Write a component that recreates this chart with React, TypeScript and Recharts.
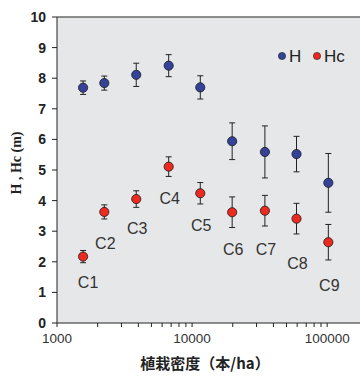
import {
  ScatterChart,
  Scatter,
  XAxis,
  YAxis,
  ErrorBar,
  CartesianGrid,
  ReferenceLine,
  Label,
} from "recharts";

// planting density (trees/ha) per stand C1..C9
const standNames = ["C1", "C2", "C3", "C4", "C5", "C6", "C7", "C8", "C9"];
const density = [1560, 2240, 3860, 6710, 11500, 19800, 34600, 59300, 102000];

// tree height H and its error
const hValues = [7.69, 7.84, 8.11, 8.41, 7.7, 5.94, 5.59, 5.52, 4.58];
const hErrors = [0.22, 0.23, 0.38, 0.36, 0.38, 0.6, 0.85, 0.58, 0.96];

// crown base height Hc and its error
const hcValues = [2.17, 3.63, 4.05, 5.11, 4.24, 3.62, 3.67, 3.41, 2.64];
const hcErrors = [0.2, 0.23, 0.27, 0.32, 0.35, 0.5, 0.5, 0.5, 0.58];

// where each stand name sits (y in metres)
const labelY = [1.31, 2.61, 3.1, 4.08, 3.2, 2.39, 2.41, 1.96, 1.24];

const xTicks = [
  1000, 2000, 3000, 4000, 5000, 6000, 7000, 8000, 9000,
  10000, 20000, 30000, 40000, 50000, 60000, 70000, 80000, 90000,
  100000,
];
const xLabels = [1000, 10000, 100000];
const yTicks = [0, 1, 2, 3, 4, 5, 6, 7, 8, 9, 10];

const BLUE = "#34429a";
const RED = "#ec2a1f";
const AXIS = "#222";
const SANS = "'Liberation Sans', Arial, sans-serif";

const hData = density.map((d, i) => ({ density: d, value: hValues[i], err: hErrors[i] }));
const hcData = density.map((d, i) => ({ density: d, value: hcValues[i], err: hcErrors[i] }));
const nameData = density.map((d, i) => ({ density: d, value: labelY[i], name: standNames[i] }));

const Dot = (color: string) => (props: any) => {
  const { cx, cy } = props;
  if (cx == null || cy == null) return <g />;
  return <circle cx={cx} cy={cy} r={4.6} fill={color} stroke="#1a1a1a" strokeWidth={0.8} />;
};

const NameText = (props: any) => {
  const { cx, cy, payload } = props;
  if (cx == null || cy == null) return <g />;
  const dx = payload.name === "C1" ? 5 : 1;
  return (
    <text
      x={cx + dx}
      y={cy}
      textAnchor="middle"
      dominantBaseline="central"
      fontSize={16}
      fontFamily={SANS}
      fill="#333"
    >
      {payload.name}
    </text>
  );
};

export default function App() {
  return (
    <div style={{ position: "absolute", left: 0, top: 0, width: 361, height: 381, overflow: "hidden", background: "#fff" }}>
      <ScatterChart width={361} height={381} margin={{ top: 17, right: 1, bottom: 28, left: 17 }}>
        <CartesianGrid horizontal={false} vertical={false} fill="#e6e7e8" />
        <XAxis
          type="number"
          dataKey="density"
          scale="log"
          domain={[1000, 175000]}
          allowDataOverflow
          ticks={xTicks}
          interval={0}
          height={30}
          stroke={AXIS}
          tickSize={4}
          tickMargin={6}
          tick={{ fontSize: 13.5, fill: "#333", fontFamily: SANS }}
          tickFormatter={(v: number) => (xLabels.includes(v) ? String(v) : "")}
        >
          <Label
            content={() => (
              <text
                x={205}
                y={369}
                textAnchor="middle"
                fontSize={15}
                fontWeight="bold"
                fontFamily="'Noto Sans CJK JP', sans-serif"
                fill="#222"
              >
                植栽密度（本/ha）
              </text>
            )}
          />
        </XAxis>
        <YAxis
          type="number"
          dataKey="value"
          domain={[0, 10]}
          ticks={yTicks}
          interval={0}
          width={40}
          stroke={AXIS}
          tickSize={5}
          tickMargin={6}
          tick={{ fontSize: 14, fontWeight: "bold", fill: "#222", fontFamily: SANS }}
        >
          <Label
            content={() => (
              <text
                x={16}
                y={163}
                transform="rotate(-90 16 163)"
                textAnchor="middle"
                dominantBaseline="central"
                fontSize={14}
                fontWeight="bold"
                fontFamily="'Liberation Serif', 'Times New Roman', serif"
                fill="#222"
              >
                H , Hc (m)
              </text>
            )}
          />
        </YAxis>
        <ReferenceLine y={10} stroke={AXIS} strokeWidth={1.2} />
        <Scatter data={hData} shape={Dot(BLUE)} isAnimationActive={false}>
          <ErrorBar dataKey="err" direction="y" width={3} stroke="#222" strokeWidth={1} />
        </Scatter>
        <Scatter data={hcData} shape={Dot(RED)} isAnimationActive={false}>
          <ErrorBar dataKey="err" direction="y" width={3} stroke="#222" strokeWidth={1} />
        </Scatter>
        <Scatter data={nameData} shape={NameText} isAnimationActive={false} />
        {/* legend */}
        <g>
          <circle cx={282} cy={56} r={3.6} fill={BLUE} stroke="#1a1a1a" strokeWidth={0.6} />
          <text x={289} y={56} dominantBaseline="central" fontSize={17} fontFamily={SANS} fill="#222">
            H
          </text>
          <circle cx={317} cy={56} r={3.6} fill={RED} stroke="#1a1a1a" strokeWidth={0.6} />
          <text x={324} y={56} dominantBaseline="central" fontSize={17} fontFamily={SANS} fill="#222">
            Hc
          </text>
        </g>
      </ScatterChart>
    </div>
  );
}
